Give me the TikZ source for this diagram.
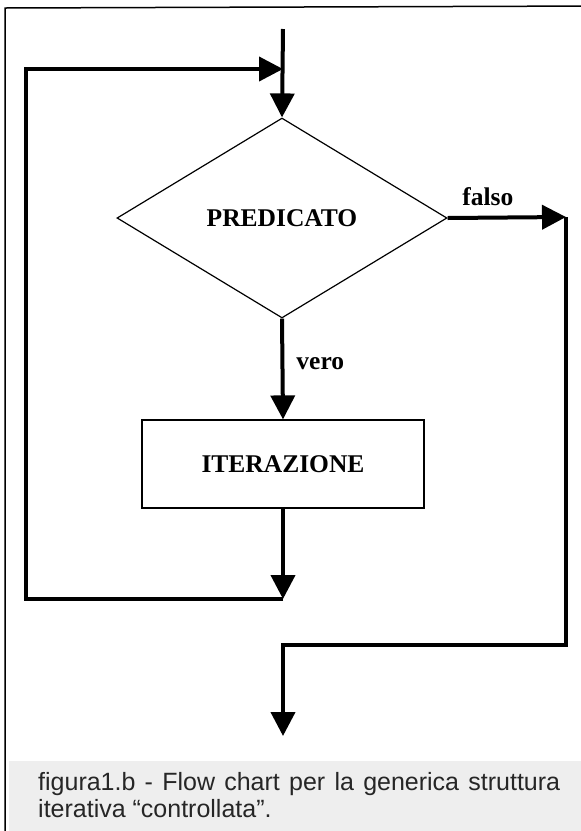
\documentclass[tikz,border=0pt]{standalone}
\usepackage{fontspec}
\setmainfont{Liberation Serif}
\newfontfamily\capfont{Liberation Sans}
\usetikzlibrary{shapes.geometric,arrows.meta}
\newcommand{\capsetup}{\hyphenpenalty=10000 \exhyphenpenalty=10000 \tolerance=9999 \emergencystretch=20pt }
\begin{document}
\begin{tikzpicture}[x=1pt,y=-1pt,
  flow/.style={line width=4pt, line join=miter},
  arr/.style={flow,-{Triangle[length=24pt,width=24pt]}},
  lbl/.style={font=\fontsize{25.5}{30}\selectfont\bfseries, inner sep=0pt},
  shapebox/.style={draw, line width=1.2pt, inner sep=0pt},
  captext/.style={font=\capfont\fontsize{25}{27.5}\selectfont,
    text=black!85, text width=522pt, align=justify, inner sep=0pt}
  ]
\useasboundingbox (0,0) rectangle (581,831);
\begin{scope}
  \clip (0,0) rectangle (581,831);
  \fill[gray!13] (9,761) rectangle (600,850);
  \draw[line width=1.5pt] (5,850) -- (5,8) -- (600,6);
\end{scope}

\node[shapebox, diamond, minimum width=330pt, minimum height=200pt, lbl] (pred) at (282,218) {PREDICATO};
\node[shapebox, rectangle, minimum width=282pt, minimum height=88pt, lbl] (iter) at (283,464) {ITERAZIONE};

\coordinate (start) at (283,29);
\coordinate (lj) at (283,69);
\coordinate (lt) at (26,69);
\coordinate (lb) at (26,599);
\coordinate (lbr) at (283,599);
\coordinate (fr) at (566,217);
\coordinate (frb) at (566,645);
\coordinate (fb) at (283,645);
\coordinate (fin) at (283,736);

\draw[arr] (start) -- (pred.north);
\draw[arr] (lbr) -- (lb) -- (lt) -- (lj);
\draw[arr] (pred.south) -- node[lbl, anchor=west, pos=0.45, xshift=12pt] {vero} (iter.north);
\draw[arr] (iter.south) -- (lbr);
\draw[arr] (pred.east) -- node[lbl, anchor=south, pos=0.34, yshift=10pt] {falso} (fr);
\draw[arr] (fr) -- (frb) -- (fb) -- (fin);

\node[captext, anchor=base west] (cap) at (38,790) {\capsetup figura1.b - Flow chart per la generica struttura\linebreak iterativa “controllata”.\par};
\end{tikzpicture}
\end{document}
